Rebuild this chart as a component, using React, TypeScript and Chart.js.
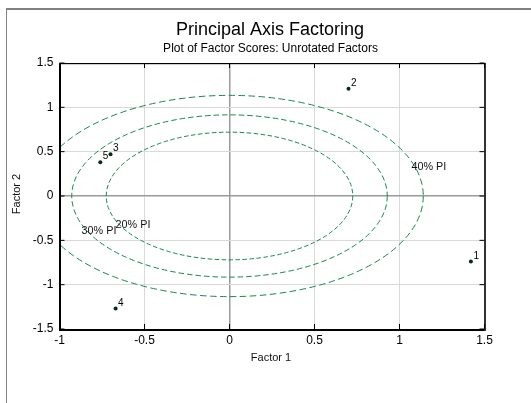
import React, { useEffect, useRef } from 'react';
import { Chart, registerables } from 'chart.js';

Chart.register(...registerables);

// ---- data ----
const caseLabels = ['1', '2', '3', '4', '5'];
const factor1 = [1.42, 0.7, -0.7, -0.67, -0.76];
const factor2 = [-0.74, 1.21, 0.47, -1.27, 0.38];

const ellipseNames = ['20% PI', '30% PI', '40% PI'];
const ellipseRadiusX = [0.725, 0.928, 1.14];
const ellipseRadiusY = [0.72, 0.915, 1.135];
const ellipseLabelX = [-0.67, -0.87, 1.07];
const ellipseLabelY = [-0.33, -0.4, 0.33];

const xTicks = [-1, -0.5, 0, 0.5, 1, 1.5];
const xTickLabels = ['-1', '-0.5', '0', '0.5', '1', '1.5'];
const yTicks = [-1.5, -1, -0.5, 0, 0.5, 1, 1.5];
const yTickLabels = ['-1.5', '-1', '-0.5', '0', '0.5', '1', '1.5'];

const chartTitle = 'Principal Axis Factoring';
const chartSubtitle = 'Plot of Factor Scores: Unrotated Factors';
const xTitle = 'Factor 1';
const yTitle = 'Factor 2';

const FONT = '"Liberation Sans", Arial, sans-serif';
const GREEN = '#138a4c';
const ellipseDashes = [[4.5, 2.5], [5.5, 3], [6.5, 3.5]];

const decorPlugin = {
  id: 'decor',
  beforeDraw(chart: any) {
    const ctx = chart.ctx;
    ctx.save();
    ctx.fillStyle = '#ffffff';
    ctx.fillRect(0, 0, chart.width, chart.height);
    // page frame
    ctx.fillStyle = '#808080';
    ctx.fillRect(6, 8, chart.width - 6, 2);
    ctx.fillRect(6, 8, 1, chart.height - 8);
    // titles
    ctx.fillStyle = '#000';
    ctx.textAlign = 'center';
    ctx.textBaseline = 'alphabetic';
    ctx.font = `18px ${FONT}`;
    ctx.fillText(chartTitle, 270, 35);
    ctx.font = `12px ${FONT}`;
    ctx.fillText(chartSubtitle, 270.5, 51.5);
    ctx.restore();
  },
  beforeDatasetsDraw(chart: any) {
    const ctx = chart.ctx;
    const xs = chart.scales.x;
    const ys = chart.scales.y;
    const a = chart.chartArea;
    ctx.save();
    ctx.beginPath();
    ctx.rect(a.left, a.top, a.right - a.left, a.bottom - a.top);
    ctx.clip();
    const cx = xs.getPixelForValue(0);
    const cy = ys.getPixelForValue(0);
    ctx.strokeStyle = GREEN;
    ctx.lineWidth = 1;
    ellipseNames.forEach((_, i) => {
      const rx = xs.getPixelForValue(ellipseRadiusX[i]) - cx;
      const ry = cy - ys.getPixelForValue(ellipseRadiusY[i]);
      ctx.setLineDash(ellipseDashes[i]);
      ctx.beginPath();
      ctx.ellipse(cx, cy, rx, ry, 0, 0, Math.PI * 2);
      ctx.stroke();
    });
    ctx.restore();
  },
  afterDatasetsDraw(chart: any) {
    const ctx = chart.ctx;
    const xs = chart.scales.x;
    const ys = chart.scales.y;
    const a = chart.chartArea;
    ctx.save();
    // ellipse labels
    ctx.fillStyle = '#111';
    ctx.font = `10.8px ${FONT}`;
    ctx.textAlign = 'left';
    ctx.textBaseline = 'middle';
    ellipseNames.forEach((name, i) => {
      ctx.fillText(name, xs.getPixelForValue(ellipseLabelX[i]), ys.getPixelForValue(ellipseLabelY[i]));
    });
    // point labels
    const meta = chart.getDatasetMeta(0);
    ctx.font = `10px ${FONT}`;
    ctx.textBaseline = 'alphabetic';
    ctx.fillStyle = '#000';
    meta.data.forEach((pt: any, i: number) => {
      ctx.fillText(caseLabels[i], pt.x + 2.5, pt.y - 3);
    });
    // plot frame
    const w = a.right - a.left;
    const h = a.bottom - a.top;
    ctx.fillStyle = '#000';
    ctx.fillRect(a.left - 0.5, a.top, w + 1, 1.2);
    ctx.fillRect(a.left - 0.5, a.top, 2, h + 2);
    ctx.fillRect(a.left - 0.5, a.bottom, w + 2, 2);
    ctx.fillStyle = '#333';
    ctx.fillRect(a.right - 0.5, a.top, 2, h + 2);
    // inward ticks
    ctx.strokeStyle = '#000';
    ctx.lineWidth = 1;
    ctx.beginPath();
    xTicks.forEach((v) => {
      const px = xs.getPixelForValue(v);
      ctx.moveTo(px, a.top);
      ctx.lineTo(px, a.top + 5);
      ctx.moveTo(px, a.bottom);
      ctx.lineTo(px, a.bottom - 5);
    });
    yTicks.forEach((v) => {
      const py = ys.getPixelForValue(v);
      ctx.moveTo(a.left, py);
      ctx.lineTo(a.left + 5, py);
      ctx.moveTo(a.right, py);
      ctx.lineTo(a.right - 5, py);
    });
    ctx.stroke();
    // axis titles
    ctx.fillStyle = '#111';
    ctx.font = `11px ${FONT}`;
    ctx.textAlign = 'center';
    ctx.textBaseline = 'alphabetic';
    ctx.fillText(xTitle, 271, 360.5);
    ctx.translate(20, 194);
    ctx.rotate(-Math.PI / 2);
    ctx.fillText(yTitle, 0, 0);
    ctx.restore();
  },
};

export default function App() {
  const ref = useRef<HTMLCanvasElement | null>(null);
  useEffect(() => {
    if (!ref.current) return;
    const chart = new Chart(ref.current, {
      type: 'scatter',
      data: {
        datasets: [
          {
            label: 'Cases',
            data: factor1.map((x, i) => ({ x, y: factor2[i] })),
            pointRadius: 2,
            pointBackgroundColor: '#062a12',
            pointBorderWidth: 0,
            showLine: false,
          },
        ],
      },
      options: {
        responsive: false,
        animation: false,
        events: [],
        layout: { padding: { left: 0, top: 63, right: 46.5, bottom: 0 } },
        plugins: {
          legend: { display: false },
          title: { display: false },
          tooltip: { enabled: false },
        },
        scales: {
          x: {
            type: 'linear',
            min: -1,
            max: 1.5,
            afterBuildTicks: (s: any) => {
              s.ticks = xTicks.map((value) => ({ value }));
            },
            afterFit: (s: any) => {
              s.height = 74;
            },
            ticks: {
              autoSkip: false,
              maxRotation: 0,
              padding: 4,
              color: '#000',
              font: { family: FONT, size: 12 },
              callback: (_v: any, i: number) => xTickLabels[i],
            },
            grid: {
              drawTicks: false,
              color: (c: any) => (c.tick && c.tick.value === 0 ? '#9a9a9a' : '#d9d9d9'),
              lineWidth: (c: any) => (c.tick && c.tick.value === 0 ? 1.5 : 1),
            },
            border: { display: false },
          },
          y: {
            type: 'linear',
            min: -1.5,
            max: 1.5,
            afterBuildTicks: (s: any) => {
              s.ticks = yTicks.map((value) => ({ value }));
            },
            afterFit: (s: any) => {
              s.width = 59.5;
            },
            ticks: {
              autoSkip: false,
              padding: 6,
              color: '#000',
              font: { family: FONT, size: 12 },
              callback: (_v: any, i: number) => yTickLabels[i],
            },
            grid: {
              drawTicks: false,
              color: (c: any) => (c.tick && c.tick.value === 0 ? '#9a9a9a' : '#d9d9d9'),
              lineWidth: (c: any) => (c.tick && c.tick.value === 0 ? 1.5 : 1),
            },
            border: { display: false },
          },
        },
      },
      plugins: [decorPlugin],
    });
    return () => chart.destroy();
  }, []);
  return (
    <div style={{ position: 'absolute', left: 0, top: 0, width: 531, height: 403 }}>
      <canvas ref={ref} width={531} height={403} style={{ display: 'block' }} />
    </div>
  );
}
